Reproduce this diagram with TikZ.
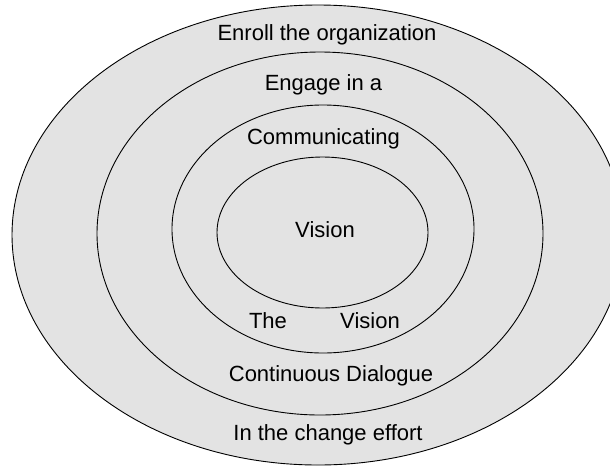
\documentclass[tikz,border=0pt]{standalone}
\usepackage{fontspec}
\setmainfont{Liberation Sans}
\usepackage{tikz}
\usetikzlibrary{calc, math}

\definecolor{ringgray}{RGB}{227,227,227}

\tikzset{
  ring/.style={draw=black, fill=ringgray, line width=0.9pt},
  lbl/.style={anchor=base, inner sep=0pt, font=\fontsize{22}{26}\selectfont}
}

\begin{document}
\begin{tikzpicture}[x=1pt, y=-1pt]

\tikzmath{
      \cx = 318; \cy = 235;
      \rxa = 306; \rya = 230;
      \rxb = 223; \ryb = 181.5;
      \rxc = 151; \ryc = 124;
      \rxd = 105.5; \ryd = 75.5;
         }

\useasboundingbox (0,0) rectangle (610,469);
\clip (0,0) rectangle (610,469);

% rings, outside in
\draw[ring] (\cx,\cy) ellipse ({\rxa} and {\rya});
\draw[ring] (320,233.5) ellipse ({\rxb} and {\ryb});
\draw[ring] (323,229) ellipse ({\rxc} and {\ryc});
\draw[ring] (322.5,232.5) ellipse ({\rxd} and {\ryd});

\node[lbl] (enroll) at (327,40) {Enroll the organization};
\node[lbl] (engage) at (323.5,90) {Engage in a};
\node[lbl] (comm) at (323.5,144) {Communicating};
\node[lbl] (vision) at (325,237) {Vision};
\node[lbl] (the) at (268,328) {The};
\node[lbl] (visionb) at (370,328) {Vision};
\node[lbl] (dialogue) at (331,381) {Continuous Dialogue};
\node[lbl] (effort) at (328,440) {In the change effort};

\end{tikzpicture}
\end{document}
